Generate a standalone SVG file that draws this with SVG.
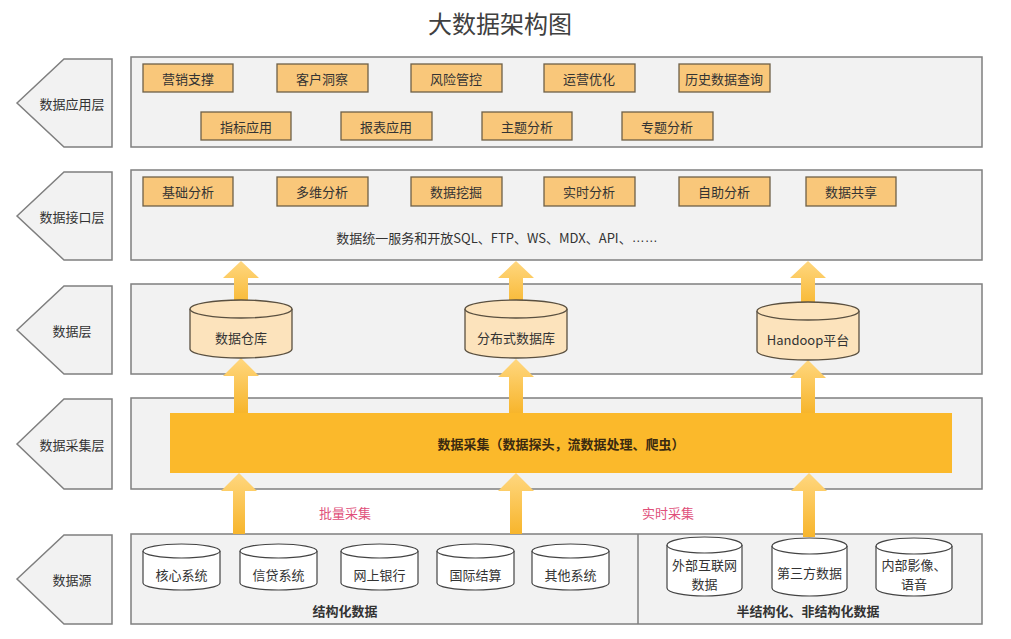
<svg xmlns="http://www.w3.org/2000/svg" width="1011" height="639" viewBox="0 0 1011 639">
<defs>
<linearGradient id="ag" x1="0" y1="0" x2="0" y2="1">
<stop offset="0" stop-color="#FFD77F"/>
<stop offset="1" stop-color="#F7B52C"/>
</linearGradient>
<style>
text{font-family:"Noto Sans CJK SC","Liberation Sans",sans-serif;fill:#333;text-anchor:middle;dominant-baseline:central}
.layer{fill:#F2F2F2;stroke:#7F7F7F;stroke-width:1.5}
.tag{fill:#F2F2F2;stroke:#7F7F7F;stroke-width:1.5}
.ob{fill:#F9C77A;stroke:#6E6048;stroke-width:1.3}
.dc{fill:#FCE3BC;stroke:#5A5040;stroke-width:1.3}
.sc{fill:#FFFFFF;stroke:#444;stroke-width:1.2}
.lbl{font-size:13px}
.b{font-weight:bold}
.red{fill:#E0507A}
.arrow{fill:url(#ag)}
</style>
</defs>
<rect width="1011" height="639" fill="#FFFFFF"/>
<text x="500" y="22" style="font-size:24px;fill:#404040">大数据架构图</text>

<g id="layer-app">
<polygon class="tag" points="17,103 64,59 112,59 112,147 64,147"/>
<text class="lbl" x="72" y="103">数据应用层</text>
<rect class="layer" x="131" y="57" width="851" height="90"/>
</g>
<g id="layer-api">
<polygon class="tag" points="17,216 64,172 112,172 112,260 64,260"/>
<text class="lbl" x="72" y="216">数据接口层</text>
<rect class="layer" x="131" y="170" width="851" height="90"/>
<text class="lbl" x="497" y="237">数据统一服务和开放SQL、FTP、WS、MDX、API、<tspan style="font-family:'Liberation Sans',sans-serif">……</tspan></text>
</g>
<g id="layer-data">
<polygon class="tag" points="17,330 64,286 112,286 112,374 64,374"/>
<text class="lbl" x="72" y="330">数据层</text>
<rect class="layer" x="131" y="284" width="851" height="90"/>
</g>
<g id="layer-collect">
<polygon class="tag" points="17,444 64,399 112,399 112,489 64,489"/>
<text class="lbl" x="72" y="444">数据采集层</text>
<rect class="layer" x="131" y="398" width="851" height="91"/>
</g>
<g id="layer-source">
<polygon class="tag" points="17,579 64,535 112,535 112,624 64,624"/>
<text class="lbl" x="72" y="579">数据源</text>
<rect class="layer" x="131" y="534" width="851" height="90"/>
<line x1="638" y1="534" x2="638" y2="624" stroke="#7F7F7F" stroke-width="1.5"/>
<text class="lbl b" x="345" y="610">结构化数据</text>
<text class="lbl b" x="808" y="610">半结构化、非结构化数据</text>
</g>

<g id="collect-bar">
<rect x="170" y="413" width="782" height="60" fill="#FBB92B"/>
<text class="lbl b" x="561" y="443" style="fill:#3A2A10">数据采集（数据探头，流数据处理、爬虫）</text>
</g>

<g id="app-nodes">
<g id="n-yxzc"><rect class="ob" x="143" y="64" width="90" height="28"/><text class="lbl" x="188" y="78">营销支撑</text></g>
<g id="n-khdc"><rect class="ob" x="277" y="64" width="91" height="28"/><text class="lbl" x="322" y="78">客户洞察</text></g>
<g id="n-fxgk"><rect class="ob" x="411" y="64" width="91" height="28"/><text class="lbl" x="456" y="78">风险管控</text></g>
<g id="n-yyyh"><rect class="ob" x="544" y="64" width="91" height="28"/><text class="lbl" x="589" y="78">运营优化</text></g>
<g id="n-lssj"><rect class="ob" x="679" y="64" width="91" height="28"/><text class="lbl" x="724" y="78">历史数据查询</text></g>
<g id="n-zbyy"><rect class="ob" x="201" y="112" width="90" height="28"/><text class="lbl" x="246" y="126">指标应用</text></g>
<g id="n-bbyy"><rect class="ob" x="341" y="112" width="91" height="28"/><text class="lbl" x="386" y="126">报表应用</text></g>
<g id="n-ztfx"><rect class="ob" x="482" y="112" width="90" height="28"/><text class="lbl" x="527" y="126">主题分析</text></g>
<g id="n-zhuanti"><rect class="ob" x="622" y="112" width="91" height="28"/><text class="lbl" x="667" y="126">专题分析</text></g>
</g>

<g id="api-nodes">
<g id="n-jcfx"><rect class="ob" x="143" y="177" width="90" height="29"/><text class="lbl" x="188" y="191">基础分析</text></g>
<g id="n-dwfx"><rect class="ob" x="277" y="177" width="91" height="29"/><text class="lbl" x="322" y="191">多维分析</text></g>
<g id="n-sjwj"><rect class="ob" x="411" y="177" width="91" height="29"/><text class="lbl" x="456" y="191">数据挖掘</text></g>
<g id="n-ssfx"><rect class="ob" x="544" y="177" width="91" height="29"/><text class="lbl" x="589" y="191">实时分析</text></g>
<g id="n-zzfx"><rect class="ob" x="679" y="177" width="91" height="29"/><text class="lbl" x="724" y="191">自助分析</text></g>
<g id="n-sjgx"><rect class="ob" x="806" y="177" width="90" height="29"/><text class="lbl" x="851" y="191">数据共享</text></g>
</g>

<g id="connectors">
<path class="arrow" d="M241,261 L259,278 L248,278 L248,310 L234,310 L234,278 L223,278 Z"/>
<path class="arrow" d="M516,261 L534,278 L523,278 L523,310 L509,310 L509,278 L498,278 Z"/>
<path class="arrow" d="M808,261 L826,278 L815,278 L815,310 L801,310 L801,278 L790,278 Z"/>
<path class="arrow" d="M241,358 L259,376 L248,376 L248,413 L234,413 L234,376 L223,376 Z"/>
<path class="arrow" d="M516,359 L534,377 L523,377 L523,413 L509,413 L509,377 L498,377 Z"/>
<path class="arrow" d="M808,360 L826,378 L815,378 L815,413 L801,413 L801,378 L790,378 Z"/>
<path class="arrow" d="M239,473 L257,491 L245,491 L245,534 L233,534 L233,491 L221,491 Z"/>
<path class="arrow" d="M516,473 L534,491 L522,491 L522,534 L510,534 L510,491 L498,491 Z"/>
<path class="arrow" d="M809,473 L827,491 L815,491 L815,537 L803,537 L803,491 L791,491 Z"/>
<text class="lbl red" x="345" y="512">批量采集</text>
<text class="lbl red" x="668" y="512">实时采集</text>
</g>

<g id="n-sjck">
<path class="dc" d="M190,309 A51,9 0 0 1 292,309 V349 A51,9 0 0 1 190,349 Z"/>
<path class="dc" d="M190,309 A51,9 0 0 0 292,309" fill="none"/>
<text class="lbl" x="241" y="337">数据仓库</text>
</g>
<g id="n-fbssjk">
<path class="dc" d="M465,309 A51,9 0 0 1 567,309 V349 A51,9 0 0 1 465,349 Z"/>
<path class="dc" d="M465,309 A51,9 0 0 0 567,309" fill="none"/>
<text class="lbl" x="516" y="337">分布式数据库</text>
</g>
<g id="n-hadoop">
<path class="dc" d="M757,311 A51,9 0 0 1 859,311 V351 A51,9 0 0 1 757,351 Z"/>
<path class="dc" d="M757,311 A51,9 0 0 0 859,311" fill="none"/>
<text class="lbl" x="808" y="339">Handoop平台</text>
</g>

<g id="n-hxxt">
<path class="sc" d="M143,551 A38.5,7 0 0 1 220,551 V583 A38.5,7 0 0 1 143,583 Z"/>
<path class="sc" d="M143,551 A38.5,7 0 0 0 220,551" fill="none"/>
<text class="lbl" x="181.5" y="574">核心系统</text>
</g>
<g id="n-xdxt">
<path class="sc" d="M240,551 A38.5,7 0 0 1 317,551 V583 A38.5,7 0 0 1 240,583 Z"/>
<path class="sc" d="M240,551 A38.5,7 0 0 0 317,551" fill="none"/>
<text class="lbl" x="278.5" y="574">信贷系统</text>
</g>
<g id="n-wsyh">
<path class="sc" d="M341,551 A38.5,7 0 0 1 418,551 V583 A38.5,7 0 0 1 341,583 Z"/>
<path class="sc" d="M341,551 A38.5,7 0 0 0 418,551" fill="none"/>
<text class="lbl" x="379.5" y="574">网上银行</text>
</g>
<g id="n-gjjs">
<path class="sc" d="M437,551 A38.5,7 0 0 1 514,551 V583 A38.5,7 0 0 1 437,583 Z"/>
<path class="sc" d="M437,551 A38.5,7 0 0 0 514,551" fill="none"/>
<text class="lbl" x="475.5" y="574">国际结算</text>
</g>
<g id="n-qtxt">
<path class="sc" d="M532,551 A38.5,7 0 0 1 609,551 V583 A38.5,7 0 0 1 532,583 Z"/>
<path class="sc" d="M532,551 A38.5,7 0 0 0 609,551" fill="none"/>
<text class="lbl" x="570.5" y="574">其他系统</text>
</g>

<g id="n-wbhlw">
<path class="sc" d="M667,545 A37.5,8 0 0 1 742,545 V588 A37.5,8 0 0 1 667,588 Z"/>
<path class="sc" d="M667,545 A37.5,8 0 0 0 742,545" fill="none"/>
<text class="lbl" x="704.5" y="564">外部互联网</text>
<text class="lbl" x="704.5" y="583">数据</text>
</g>
<g id="n-dsfsj">
<path class="sc" d="M772,546 A37.5,8 0 0 1 847,546 V588 A37.5,8 0 0 1 772,588 Z"/>
<path class="sc" d="M772,546 A37.5,8 0 0 0 847,546" fill="none"/>
<text class="lbl" x="809.5" y="572">第三方数据</text>
</g>
<g id="n-nbyx">
<path class="sc" d="M876,546 A38,8 0 0 1 952,546 V588 A38,8 0 0 1 876,588 Z"/>
<path class="sc" d="M876,546 A38,8 0 0 0 952,546" fill="none"/>
<text class="lbl" x="914" y="564">内部影像、</text>
<text class="lbl" x="914" y="583">语音</text>
</g>
</svg>
